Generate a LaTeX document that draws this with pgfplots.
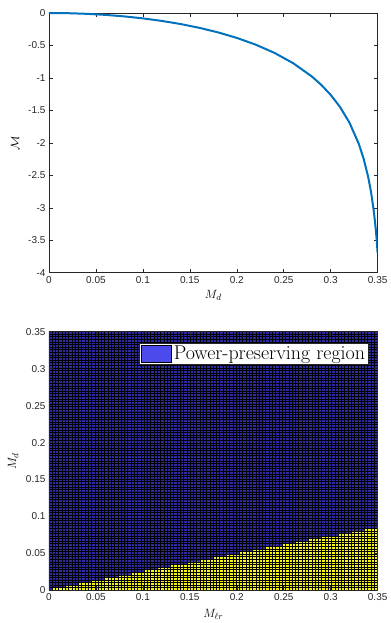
\documentclass[border=0pt]{standalone}
\usepackage{fontspec}
\usepackage{pgfplots}
\pgfplotsset{compat=1.18}
\newfontfamily\tickfont{Liberation Sans}
\definecolor{mblue}{rgb}{0,0.447,0.741}
\definecolor{cellblue}{RGB}{48,42,160}
\definecolor{legblue}{RGB}{75,75,235}
\definecolor{cellyellow}{RGB}{245,245,30}
\definecolor{axgray}{RGB}{38,38,38}
\pgfplotsset{
  common/.style={
    scale only axis, anchor=south west,
    width=329pt,
    xmin=0, xmax=0.35,
    xtick={0,0.05,0.1,0.15,0.2,0.25,0.3,0.35},
    scaled ticks=false,
    /pgf/number format/assume math mode=true,
    /pgf/number format/fixed,
    /pgf/number format/precision=2,
    tick label style={font=\tickfont\fontsize{10}{12}\selectfont, text=axgray},
    label style={font=\fontsize{13}{15}\selectfont},
    axis line style={axgray, line width=0.5pt},
    major tick style={axgray, line width=0.5pt},
    major tick length=4pt,
    tick align=inside,
  }
}
\begin{document}
\begin{tikzpicture}
\path (0,0) rectangle (389pt,623pt);
\begin{axis}[common,
  at={(49pt,350pt)}, height=260pt,
  ymin=-4, ymax=0,
  ytick={-4,-3.5,-3,-2.5,-2,-1.5,-1,-0.5,0},
  xlabel={$M_d$}, ylabel={$\mathcal{M}$},
  xlabel style={at={(axis description cs:0.5,-0.088)}, anchor=center},
  ylabel style={at={(axis description cs:-0.103,0.5)}, anchor=center},
]
\addplot[mblue, line width=2pt] coordinates {
(0,0) (0.02,-0.00319) (0.04,-0.01282) (0.06,-0.02908) (0.08,-0.05230)
(0.10,-0.08297) (0.12,-0.12177) (0.14,-0.16968) (0.16,-0.22793)
(0.18,-0.29837) (0.20,-0.38342) (0.22,-0.48670) (0.24,-0.61360)
(0.26,-0.77266) (0.28,-0.97870) (0.29,-1.1075) (0.30,-1.2607)
(0.31,-1.4487) (0.32,-1.6890) (0.33,-2.0178) (0.335,-2.2397)
(0.34,-2.5305) (0.343,-2.7599) (0.346,-3.0608) (0.348,-3.3298)
(0.349,-3.4982) (0.35,-3.7017)
};
\end{axis}
\begin{axis}[common,
  at={(49pt,32pt)}, height=259pt,
  ymin=0, ymax=0.35,
  ytick={0,0.05,0.1,0.15,0.2,0.25,0.3,0.35},
  xlabel={$M_{\ell r}$}, ylabel={$M_d$},
  xlabel style={at={(axis description cs:0.5,-0.093)}, anchor=center},
  ylabel style={at={(axis description cs:-0.109,0.5)}, anchor=center},
  axis on top,
  minor xtick={0,0.0035,...,0.35},
  minor ytick={0,0.0035,...,0.35},
  xmajorgrids=false, ymajorgrids=false,
  xminorgrids=true, yminorgrids=true,
  minor tick length=0pt,
  minor grid style={black, line width=0.8pt},
  legend style={at={(axis description cs:0.973,0.958)}, anchor=north east,
    draw=axgray, fill=white, font=\fontsize{20}{22}\selectfont,
    inner xsep=1.5pt, inner ysep=1pt},
  legend cell align=left,
  legend image code/.code={\draw[fill=legblue,draw=black,line width=0.6pt] (0pt,-8.5pt) rectangle (30pt,8.5pt);},
]
\addplot[fill=cellblue, draw=none] coordinates {(0,0) (0.35,0) (0.35,0.35) (0,0.35)} \closedcycle;
\addlegendentry{Power-preserving region}
\addplot[const plot, fill=cellyellow, draw=none, forget plot] coordinates {
(0,0) (0.0035,0.0035) (0.0175,0.0070) (0.0315,0.0105) (0.0455,0.0140)
(0.0595,0.0175) (0.0735,0.0210) (0.0875,0.0245) (0.1015,0.0280)
(0.1155,0.0315) (0.1295,0.0350) (0.1470,0.0385) (0.1610,0.0420)
(0.1750,0.0455) (0.1890,0.0490) (0.2030,0.0525) (0.2170,0.0560)
(0.2310,0.0595) (0.2485,0.0630) (0.2625,0.0665) (0.2765,0.0700)
(0.2905,0.0735) (0.3080,0.0770) (0.3220,0.0805) (0.3360,0.0840)
(0.3500,0.0840)
} \closedcycle;
\end{axis}
\end{tikzpicture}
\end{document}
